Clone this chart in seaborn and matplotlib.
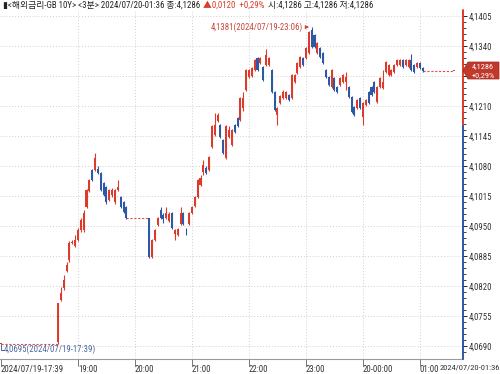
import numpy as np
import pandas as pd
import matplotlib
matplotlib.use("Agg")
import matplotlib.pyplot as plt
import seaborn as sns
from matplotlib import font_manager as fm
from matplotlib.patches import Polygon
from matplotlib.transforms import blended_transform_factory

sns.set_theme(style="white")
_avail = {f.name for f in fm.fontManager.ttflist}
NARROW = next((f for f in ['Liberation Sans Narrow', 'DejaVu Sans Condensed',
                           'Roboto Condensed', 'Liberation Sans'] if f in _avail), 'DejaVu Sans')
FONT = [NARROW, 'Noto Sans CJK KR', 'DejaVu Sans']
plt.rcParams['font.family'] = FONT

# ---------------- data ----------------
start_time = "2024-07-19 17:39"
prev_close = 4.1166
last_price = 4.1286
change_text = "+0,29%"

bar_times = [
    "17:39",
    "18:39", "18:42", "18:45", "18:48", "18:51", "18:54", "18:57", "19:00", "19:03", "19:06",
    "19:09", "19:12", "19:15", "19:18", "19:21", "19:24", "19:27", "19:30", "19:33", "19:36",
    "19:39", "19:42", "19:45", "19:48", "19:51",
    "20:15", "20:18", "20:21", "20:24", "20:27", "20:30", "20:33", "20:36", "20:39", "20:42",
    "20:45", "20:48", "20:51", "20:54", "20:57", "21:00", "21:03", "21:06", "21:09", "21:12",
    "21:15", "21:18", "21:21", "21:24", "21:27", "21:30", "21:33", "21:36", "21:39", "21:42",
    "21:45", "21:48", "21:51", "21:54", "21:57", "22:00", "22:03", "22:06", "22:09", "22:12",
    "22:15", "22:18", "22:21", "22:24", "22:27", "22:30", "22:33", "22:36", "22:39", "22:42",
    "22:45", "22:48", "22:51", "22:54", "22:57", "23:00", "23:03", "23:06", "23:09", "23:12",
    "23:15", "23:18", "23:21", "23:24", "23:27", "23:30", "23:33", "23:36", "23:39", "23:42",
    "23:45", "23:48", "23:51", "23:54", "23:57", "00:00", "00:03", "00:06", "00:09", "00:12",
    "00:15", "00:18", "00:21", "00:24", "00:27", "00:30", "00:33", "00:36", "00:39", "00:42",
    "00:45", "00:48", "00:51", "00:54", "00:57", "01:00", "01:03",
    "01:36",
]
opens = [
    4.0695,
    4.0699, 4.0790, 4.0815, 4.0853, 4.0876, 4.0913, 4.0907, 4.0920, 4.0941, 4.0941,
    4.0991, 4.1026, 4.1071, 4.1071, 4.1073, 4.1065, 4.1043, 4.1035, 4.1006, 4.1017,
    4.1002, 4.1028, 4.1013, 4.1002, 4.0991,
    4.0967, 4.0883, 4.0920, 4.0952, 4.0985, 4.0974, 4.0967, 4.0961, 4.0978, 4.0933,
    4.0931, 4.0954, 4.0978, 4.0944, 4.0954, 4.0978, 4.0993, 4.1013, 4.1039, 4.1067,
    4.1076, 4.1071, 4.1121, 4.1147, 4.1178, 4.1169, 4.1136, 4.1097, 4.1143, 4.1126,
    4.1169, 4.1184, 4.1180, 4.1206, 4.1245, 4.1273, 4.1275, 4.1288, 4.1314, 4.1303,
    4.1295, 4.1299, 4.1299, 4.1288, 4.1240, 4.1191, 4.1217, 4.1227, 4.1227, 4.1234,
    4.1227, 4.1262, 4.1282, 4.1295, 4.1314, 4.1314, 4.1325, 4.1375, 4.1364, 4.1325,
    4.1336, 4.1325, 4.1288, 4.1273, 4.1251, 4.1271, 4.1251, 4.1256, 4.1262, 4.1262,
    4.1251, 4.1230, 4.1208, 4.1206, 4.1227, 4.1186, 4.1212, 4.1240, 4.1251, 4.1262,
    4.1219, 4.1251, 4.1249, 4.1284, 4.1277, 4.1277, 4.1284, 4.1299, 4.1299, 4.1310,
    4.1299, 4.1295, 4.1310, 4.1299, 4.1295, 4.1303, 4.1292,
    4.1286,
]
highs = [
    4.0695,
    4.0783, 4.0818, 4.0844, 4.0872, 4.0918, 4.0920, 4.0931, 4.0945, 4.0968, 4.0985,
    4.1030, 4.1052, 4.1073, 4.1108, 4.1080, 4.1067, 4.1045, 4.1037, 4.1030, 4.1032,
    4.1030, 4.1050, 4.1015, 4.1004, 4.0993,
    4.0967, 4.0922, 4.0943, 4.0969, 4.0991, 4.0978, 4.0991, 4.0980, 4.0980, 4.0943,
    4.0946, 4.0991, 4.0980, 4.0945, 4.0980, 4.0993, 4.1015, 4.1052, 4.1061, 4.1093,
    4.1080, 4.1101, 4.1169, 4.1195, 4.1195, 4.1171, 4.1138, 4.1169, 4.1167, 4.1160,
    4.1171, 4.1186, 4.1229, 4.1240, 4.1290, 4.1290, 4.1295, 4.1312, 4.1316, 4.1316,
    4.1297, 4.1334, 4.1316, 4.1290, 4.1242, 4.1208, 4.1234, 4.1245, 4.1242, 4.1236,
    4.1279, 4.1279, 4.1305, 4.1318, 4.1316, 4.1338, 4.1372, 4.1381, 4.1366, 4.1349,
    4.1338, 4.1327, 4.1290, 4.1275, 4.1290, 4.1273, 4.1253, 4.1273, 4.1279, 4.1284,
    4.1253, 4.1232, 4.1210, 4.1225, 4.1229, 4.1219, 4.1225, 4.1242, 4.1253, 4.1264,
    4.1253, 4.1273, 4.1288, 4.1307, 4.1301, 4.1290, 4.1301, 4.1312, 4.1312, 4.1312,
    4.1312, 4.1312, 4.1323, 4.1301, 4.1305, 4.1305, 4.1295,
    4.1286,
]
lows = [
    4.0695,
    4.0695, 4.0788, 4.0812, 4.0850, 4.0872, 4.0910, 4.0905, 4.0918, 4.0938, 4.0938,
    4.0989, 4.1024, 4.1048, 4.1069, 4.1063, 4.1026, 4.1015, 4.0998, 4.1004, 4.1013,
    4.0998, 4.1026, 4.0989, 4.0978, 4.0965,
    4.0881, 4.0881, 4.0918, 4.0950, 4.0965, 4.0956, 4.0965, 4.0958, 4.0944, 4.0920,
    4.0929, 4.0952, 4.0952, 4.0931, 4.0952, 4.0976, 4.0991, 4.1011, 4.1037, 4.1061,
    4.1063, 4.1069, 4.1119, 4.1145, 4.1175, 4.1141, 4.1106, 4.1095, 4.1141, 4.1124,
    4.1152, 4.1165, 4.1178, 4.1199, 4.1243, 4.1271, 4.1273, 4.1286, 4.1286, 4.1301,
    4.1264, 4.1297, 4.1297, 4.1238, 4.1199, 4.1169, 4.1215, 4.1225, 4.1225, 4.1221,
    4.1225, 4.1260, 4.1280, 4.1293, 4.1297, 4.1312, 4.1323, 4.1336, 4.1336, 4.1323,
    4.1314, 4.1301, 4.1271, 4.1254, 4.1249, 4.1243, 4.1238, 4.1254, 4.1260, 4.1245,
    4.1228, 4.1195, 4.1189, 4.1204, 4.1204, 4.1169, 4.1210, 4.1215, 4.1232, 4.1238,
    4.1217, 4.1249, 4.1247, 4.1282, 4.1275, 4.1275, 4.1282, 4.1297, 4.1297, 4.1293,
    4.1297, 4.1293, 4.1286, 4.1282, 4.1293, 4.1290, 4.1284,
    4.1286,
]
closes = [
    4.0695,
    4.0783, 4.0805, 4.0832, 4.0866, 4.0913, 4.0916, 4.0920, 4.0941, 4.0963, 4.0979,
    4.1028, 4.1050, 4.1050, 4.1097, 4.1065, 4.1028, 4.1017, 4.1002, 4.1028, 4.1028,
    4.1028, 4.1035, 4.0991, 4.0981, 4.0967,
    4.0883, 4.0920, 4.0941, 4.0967, 4.0967, 4.0965, 4.0978, 4.0976, 4.0946, 4.0941,
    4.0944, 4.0978, 4.0954, 4.0943, 4.0978, 4.0991, 4.1013, 4.1050, 4.1054, 4.1082,
    4.1065, 4.1099, 4.1167, 4.1169, 4.1191, 4.1143, 4.1108, 4.1167, 4.1158, 4.1158,
    4.1154, 4.1167, 4.1227, 4.1227, 4.1288, 4.1288, 4.1292, 4.1310, 4.1288, 4.1314,
    4.1266, 4.1321, 4.1314, 4.1240, 4.1201, 4.1206, 4.1232, 4.1240, 4.1240, 4.1223,
    4.1277, 4.1277, 4.1303, 4.1316, 4.1299, 4.1336, 4.1370, 4.1338, 4.1338, 4.1347,
    4.1316, 4.1303, 4.1273, 4.1256, 4.1288, 4.1245, 4.1240, 4.1271, 4.1277, 4.1273,
    4.1230, 4.1197, 4.1191, 4.1223, 4.1206, 4.1217, 4.1223, 4.1217, 4.1234, 4.1240,
    4.1251, 4.1271, 4.1262, 4.1305, 4.1299, 4.1288, 4.1299, 4.1310, 4.1310, 4.1295,
    4.1310, 4.1310, 4.1288, 4.1284, 4.1303, 4.1292, 4.1286,
    4.1286,
]

y_ticks = [4.0690, 4.0755, 4.0820, 4.0885, 4.0950, 4.1015, 4.1080, 4.1145,
           4.1210, 4.1275, 4.1340, 4.1405]
x_tick_times = ["17:39", "19:00", "20:00", "21:00", "22:00", "23:00", "00:00", "01:00"]
x_tick_labels = ["2024/07/19-17:39", "19:00", "20:00", "21:00", "22:00", "23:00",
                 "20-00:00", "01:00"]
header_main = "▮<해외금리-GB 10Y> <3분> 2024/07/20-01:36 종:4,1286"
header_change = "▲0,0120  +0,29%"
header_rest = "시:4,1286 고:4,1286 저:4,1286"
end_label = "2024/07/20-01:36"

# ---------------- helpers ----------------
RED = "#dc3b2c"
BLUE = "#2c58a6"
GRID = "#cfcfcf"
t0 = pd.Timestamp(start_time)


def slot(t):
    ts = pd.Timestamp(f"{t0.date()} {t}")
    if ts < t0:
        ts += pd.Timedelta(days=1)
    return (ts - t0) / pd.Timedelta(minutes=3)


df = pd.DataFrame({"time": bar_times, "open": opens, "high": highs,
                   "low": lows, "close": closes})
df["slot"] = df["time"].map(slot)
df["up"] = df["close"] >= df["open"]
df["color"] = np.where(df["up"], RED, BLUE)

# ---------------- figure ----------------
W, H = 500, 374
fig = plt.figure(figsize=(W / 100, H / 100), dpi=100)
renderer = fig.canvas.get_renderer()


def fit_size(text, target_px, cap):
    t = fig.text(0, 0, text, fontsize=10)
    w = t.get_window_extent(renderer).width
    t.remove()
    return min(cap, 10 * target_px / w)


LBL = fit_size("2024/07/19-17:39", 62, 7.0)
HDR = fit_size(header_main, 195, 7.6)

ax = fig.add_axes([0, 1 - 359 / H, 463 / W, (359 - 10) / H])
ax.set_facecolor("white")
ax.set_xlim(-0.35, 162.1)
ax.set_ylim(4.06618, 4.1418)

# grid
tick_slots = [slot(t) for t in x_tick_times]
for s in tick_slots[1:]:
    ax.axvline(s, color=GRID, lw=0.7, ls=(0, (1, 2)), zorder=0)
for v in y_ticks:
    ax.axhline(v, color=GRID, lw=0.7, ls=(0, (1, 2)), zorder=0)

# gaps (no trades) drawn as dashed lines at previous close
for k in range(1, len(df)):
    a, b = df["slot"].iloc[k - 1], df["slot"].iloc[k]
    if b - a > 1:
        ax.hlines(df["close"].iloc[k - 1], a, b, color="#e0504a", lw=0.8,
                  ls=(0, (2, 1.5)), zorder=2)

# wicks and bodies
ax.vlines(df["slot"], df["low"], df["high"], colors=df["color"], lw=0.8, zorder=3)
body_bottom = df[["open", "close"]].min(axis=1)
body_h = (df["close"] - df["open"]).abs().clip(lower=0.00012)
ax.bar(df["slot"], body_h, bottom=body_bottom, width=0.72, color=df["color"],
       linewidth=0, zorder=4)

# spines
for sp in ["left", "top", "right"]:
    ax.spines[sp].set_visible(False)
ax.spines["bottom"].set_color("#9a9a9a")
ax.spines["bottom"].set_linewidth(0.8)

# right axis line coloured by previous close
tr = blended_transform_factory(ax.transAxes, ax.transData)
ylo, yhi = ax.get_ylim()
ax.plot([1, 1], [prev_close, yhi], color=RED, lw=1.4, transform=tr, clip_on=False, zorder=6)
ax.plot([1, 1], [ylo, prev_close], color=BLUE, lw=1.4, transform=tr, clip_on=False, zorder=6)

# y ticks on right
ax.yaxis.tick_right()
ax.set_yticks(y_ticks)
ax.set_yticklabels([("" if abs(v - 4.1275) < 1e-6 else f"{v:.4f}".replace(".", ","))
                    for v in y_ticks])
ax.set_yticks(np.arange(4.0677, 4.1418, 0.0013), minor=True)
ax.tick_params(axis="y", which="major", length=3, width=0.7, pad=1,
               labelsize=LBL, labelcolor="#333333", right=True, direction="out")
ax.tick_params(axis="y", which="minor", length=2, width=0.6, right=True, direction="out")
for tk in ax.yaxis.get_major_ticks() + ax.yaxis.get_minor_ticks():
    v = tk.get_loc()
    tk.tick2line.set_color(RED if v >= prev_close else BLUE)

# x ticks
ax.set_xticks(tick_slots)
ax.set_xticklabels(x_tick_labels)
ax.tick_params(axis="x", length=5, width=0.7, color="#777777", pad=-1,
               labelsize=LBL, labelcolor="#333333", bottom=True, direction="out")
for lab in ax.get_xticklabels():
    lab.set_ha("left")
fig.text(500 / W, 1 - 367 / H, end_label, ha="right", va="center",
         fontsize=LBL * 0.96, color="#333333")

# annotations: high & low
peak_i = df["high"].idxmax()
low_i = df["low"].idxmin()
ax.annotate(f"{df['high'][peak_i]:.4f}".replace(".", ",") + f"(2024/07/19-{df['time'][peak_i]})",
            xy=(df["slot"][peak_i] - 0.9, df["high"][peak_i]),
            xytext=(df["slot"][peak_i] - 3.0, df["high"][peak_i]),
            ha="right", va="center", fontsize=LBL, color="#c8443a",
            arrowprops=dict(arrowstyle="-|>", color="#c8443a", lw=0.7,
                            mutation_scale=5, shrinkA=0, shrinkB=0), zorder=7)
low_v = df["low"][low_i]
ax.plot([df["slot"][low_i] + 0.1, df["slot"][low_i] + 0.1, df["slot"][low_i] + 0.9],
        [low_v, low_v - 0.0013, low_v - 0.0013], color="#4a67a3", lw=0.7, zorder=7)
ax.text(df["slot"][low_i] + 1.0, low_v - 0.0012,
        f"{low_v:.4f}".replace(".", ",") + f"(2024/07/19-{df['time'][low_i]})",
        ha="left", va="center", fontsize=LBL, color="#4a67a3", zorder=7)

# price box on right
px0, px1, py0, py1 = 463, 499, 62, 79
poly = Polygon([(px0 / W, 1 - (py0 + py1) / 2 / H), ((px0 + 5) / W, 1 - py0 / H),
                (px1 / W, 1 - py0 / H), (px1 / W, 1 - py1 / H),
                ((px0 + 5) / W, 1 - py1 / H)], closed=True,
               transform=fig.transFigure, facecolor="#c0392b", edgecolor="#a02a20",
               lw=0.5, zorder=10)
fig.patches.append(poly)
fig.text((px0 + px1 + 4) / 2 / W, 1 - (py0 + 4.5) / H, f"{last_price:.4f}".replace(".", ","),
         ha="center", va="center", fontsize=LBL * 0.95, color="white", zorder=11)
fig.text((px0 + px1 + 4) / 2 / W, 1 - (py1 - 4) / H, change_text,
         ha="center", va="center", fontsize=LBL * 0.95, color="white", zorder=11)

# header (three segments at the reference positions, never overlapping)
x = 3
for txt, col, ref_x in [(header_main, "#222222", 3), (header_change, RED, 201),
                        (header_rest, "#222222", 264)]:
    x = max(x, ref_x)
    t = fig.text(x / W, 1 - 5.5 / H, txt, ha="left", va="center", fontsize=HDR, color=col)
    x += t.get_window_extent(renderer).width + 3

fig.savefig("out.png", dpi=100, facecolor="white")
